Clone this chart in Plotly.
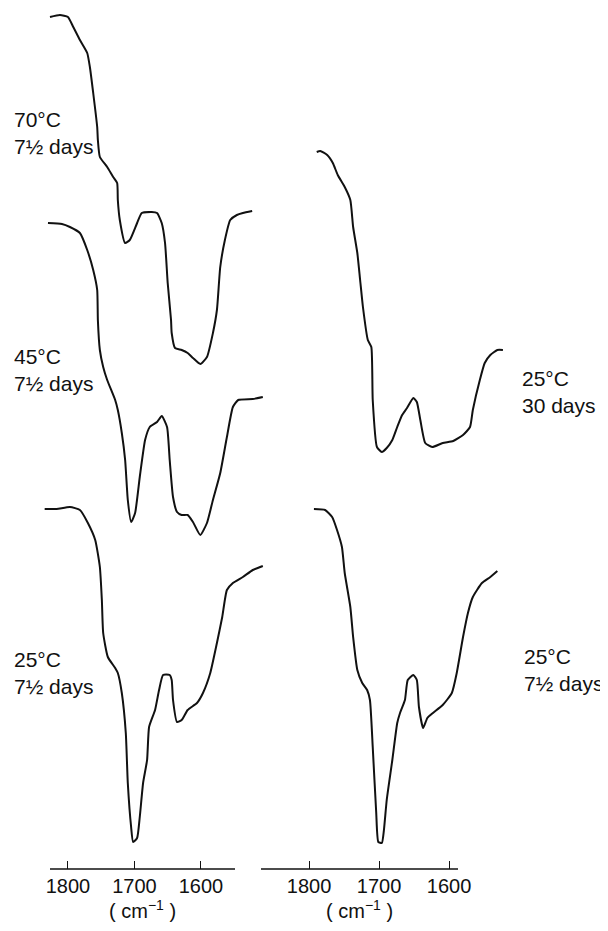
import plotly.graph_objects as go

# Wavenumber (cm^-1) and relative transmittance (arbitrary units, stacked offsets)
wn_70 = [1827, 1812, 1800, 1792, 1782, 1771, 1767, 1762, 1756, 1755, 1752, 1741, 1732, 1726, 1725, 1722,
         1714, 1707, 1696, 1689, 1674, 1666, 1659, 1654, 1650, 1645, 1644, 1639, 1629, 1620, 1612, 1601,
         1591, 1582, 1576, 1571, 1564, 1556, 1546, 1537, 1523]
t_70 = [852, 854, 852, 842, 829, 816, 802, 776, 742, 729, 712, 702, 692, 686, 669, 649,
        626, 629, 646, 656, 657, 656, 646, 626, 586, 549, 536, 521, 519, 516, 511, 505,
        512, 536, 559, 602, 629, 649, 654, 656, 658]

wn_45 = [1830, 1809, 1797, 1782, 1771, 1762, 1756, 1755, 1752, 1747, 1741, 1729, 1725, 1719, 1714, 1710,
         1705, 1699, 1692, 1684, 1677, 1666, 1659, 1651, 1647, 1642, 1636, 1629, 1620, 1612, 1601, 1591,
         1582, 1571, 1561, 1552, 1544, 1522, 1507]
t_45 = [646, 645, 642, 636, 619, 599, 579, 549, 519, 502, 489, 469, 459, 436, 409, 369,
        347, 356, 392, 429, 442, 447, 453, 442, 409, 372, 357, 354, 354, 347, 334, 346,
        369, 396, 432, 462, 469, 470, 472]

wn_25a = [1835, 1817, 1797, 1782, 1770, 1759, 1752, 1749, 1747, 1740, 1729, 1725, 1719, 1713, 1710, 1705,
          1702, 1696, 1692, 1687, 1681, 1678, 1669, 1663, 1657, 1647, 1644, 1642, 1636, 1629, 1620, 1606,
          1597, 1586, 1576, 1568, 1561, 1552, 1537, 1522, 1507]
t_25a = [360, 360, 362, 359, 346, 329, 302, 269, 236, 212, 201, 196, 176, 136, 86, 42,
         27, 31, 52, 86, 109, 142, 159, 179, 194, 194, 189, 169, 147, 149, 159, 166,
         176, 196, 226, 252, 279, 286, 292, 299, 303]

wn_30d = [1789, 1784, 1774, 1766, 1759, 1749, 1741, 1737, 1731, 1727, 1723, 1716, 1711, 1709, 1703, 1696,
          1689, 1681, 1674, 1667, 1660, 1651, 1646, 1641, 1634, 1624, 1609, 1594, 1580, 1570, 1566, 1556,
          1549, 1541, 1531, 1523]
t_30d = [717, 718, 714, 706, 694, 682, 669, 642, 616, 589, 562, 529, 522, 469, 422, 417,
         421, 429, 442, 454, 461, 471, 467, 449, 426, 422, 426, 428, 434, 442, 459, 489,
         506, 514, 519, 519]

wn_25b = [1793, 1777, 1767, 1760, 1753, 1749, 1741, 1737, 1731, 1724, 1717, 1713, 1709, 1704, 1701, 1696,
          1693, 1689, 1681, 1674, 1670, 1663, 1659, 1651, 1646, 1643, 1637, 1631, 1623, 1609, 1596, 1589,
          1580, 1573, 1566, 1553, 1541, 1531]
t_25b = [360, 359, 352, 339, 322, 296, 262, 232, 199, 186, 179, 169, 122, 56, 27, 26,
         39, 69, 109, 146, 156, 169, 189, 194, 189, 162, 141, 151, 156, 164, 176, 196,
         232, 256, 272, 286, 292, 298]

tick_vals = [1800, 1700, 1600]
tick_text = ["1800", "1700", "1600"]

# page body has an 8px default margin, so the figure is sized to fit the window
W, H = 600, 915
PLOT_H = 861
FONT = "Liberation Sans, Arial, Helvetica, sans-serif"
INK = "#111111"
line = dict(color=INK, width=2.0, shape="spline", smoothing=0.5)

fig = go.Figure()
for wn, t in [(wn_70, t_70), (wn_45, t_45), (wn_25a, t_25a)]:
    fig.add_trace(go.Scatter(x=wn, y=t, mode="lines", line=line, xaxis="x", yaxis="y",
                             showlegend=False, hoverinfo="skip"))
for wn, t in [(wn_30d, t_30d), (wn_25b, t_25b)]:
    fig.add_trace(go.Scatter(x=wn, y=t, mode="lines", line=line, xaxis="x2", yaxis="y",
                             showlegend=False, hoverinfo="skip"))

axis_common = dict(
    tickmode="array", tickvals=tick_vals, ticktext=tick_text,
    ticks="inside", ticklen=8, tickwidth=1.3, tickcolor=INK,
    showline=False, showgrid=False, zeroline=False, anchor="y", automargin=False,
    ticklabelstandoff=3,
    tickfont=dict(family=FONT, size=20, color=INK),
)

fig.update_layout(
    template="none",
    width=W, height=H,
    margin=dict(l=0, r=0, t=0, b=H - PLOT_H, pad=0, autoexpand=False),
    paper_bgcolor="white", plot_bgcolor="rgba(0,0,0,0)",
    xaxis=dict(domain=[32 / W, 262 / W], range=[1842, 1496.2], **axis_common),
    xaxis2=dict(domain=[292 / W, 502 / W], range=[1812.9, 1512.9], **axis_common),
    yaxis=dict(range=[0, PLOT_H], visible=False, fixedrange=True, automargin=False),
    font=dict(family=FONT, color=INK),
    showlegend=False,
)

# baseline axis lines
for x0, x1 in [(42, 227), (253, 450)]:
    fig.add_shape(type="line", xref="paper", yref="paper", x0=x0 / W, x1=x1 / W, y0=0, y1=0,
                  line=dict(color=INK, width=1.3))

# unit labels (below the axes)
for xc in [134.5, 351.5]:
    fig.add_annotation(x=xc / W, xref="paper", y=-(H - PLOT_H) / PLOT_H, yref="paper",
                       text="( cm<sup>−1</sup> )",
                       showarrow=False, font=dict(family=FONT, size=20, color=INK),
                       xanchor="center", yanchor="bottom", borderpad=0)

labels = [
    (4, 736, "70°C<br>7½ days"),
    (4, 499, "45°C<br>7½ days"),
    (4, 196, "25°C<br>7½ days"),
    (512, 477, "25°C<br>30 days"),
    (514, 199, "25°C<br>7½ days"),
]
for xp, yv, txt in labels:
    fig.add_annotation(x=xp / W, xref="paper", y=yv / PLOT_H, yref="paper", text=txt,
                       showarrow=False, align="left", xanchor="left", yanchor="middle",
                       font=dict(family=FONT, size=21, color=INK))

fig.write_html("out.html")
